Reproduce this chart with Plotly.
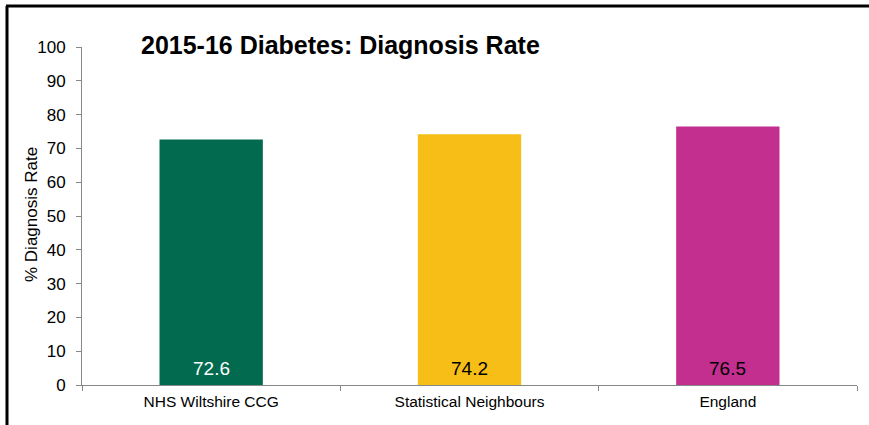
import plotly.graph_objects as go

categories = ["NHS Wiltshire CCG", "Statistical Neighbours", "England"]
values = [72.6, 74.2, 76.5]
bar_colors = ["#016A4F", "#F6BE17", "#C32F8F"]
label_colors = ["#FFFFFF", "#000000", "#000000"]
y_ticks = list(range(0, 101, 10))

FONT = "Liberation Sans, Arial, sans-serif"

fig = go.Figure()
fig.add_trace(go.Bar(
    x=categories, y=values, marker=dict(color=bar_colors, line=dict(width=0)),
    width=0.40, hoverinfo="skip", showlegend=False,
))

for c, v, col in zip(categories, values, label_colors):
    fig.add_annotation(x=c, y=5, text=f"{v:.1f}", showarrow=False,
                       xref="x", yref="y", yanchor="middle",
                       font=dict(family=FONT, size=19, color=col))

fig.add_annotation(text="<b>2015-16 Diabetes: Diagnosis Rate</b>", xref="paper", yref="paper",
                   x=(139 - 82) / 775, y=(385 - 45) / 338, xanchor="left", yanchor="middle",
                   showarrow=False, font=dict(family=FONT, size=25, color="#000000"))

# y-axis title
fig.add_annotation(text="% Diagnosis Rate", xref="paper", yref="paper",
                   x=(31 - 82) / 775, y=(385 - 215) / 338, xanchor="center", yanchor="middle",
                   textangle=-90, showarrow=False,
                   font=dict(family=FONT, size=17, color="#000000"))

# outer frame (left & top visible)
fig.add_shape(type="line", xref="paper", yref="paper",
              x0=(7 - 82) / 775, x1=(7 - 82) / 775, y0=(385 - 6) / 338, y1=(385 - 440) / 338,
              line=dict(color="#000000", width=3))
fig.add_shape(type="line", xref="paper", yref="paper",
              x0=(6 - 82) / 775, x1=(880 - 82) / 775, y0=(385 - 6) / 338, y1=(385 - 6) / 338,
              line=dict(color="#000000", width=3))

fig.update_layout(
    width=869, height=425,
    margin=dict(l=82, r=12, t=47, b=40),
    paper_bgcolor="white", plot_bgcolor="white",
    font=dict(family=FONT, size=15, color="#000000"),
    xaxis=dict(showline=True, linecolor="#888888", linewidth=1, ticks="outside",
               tickson="boundaries", ticklen=5, tickcolor="#888888",
               tickfont=dict(family=FONT, size=15.5, color="#000000"), showgrid=False,
               ticklabelstandoff=2, fixedrange=True),
    yaxis=dict(range=[0, 100], tickvals=y_ticks, showline=True, linecolor="#888888",
               linewidth=1, ticks="outside", ticklen=5, tickcolor="#888888",
               showgrid=False, zeroline=False, ticklabelstandoff=7,
               tickfont=dict(family=FONT, size=17, color="#000000")),
)

fig.write_html("out.html")
